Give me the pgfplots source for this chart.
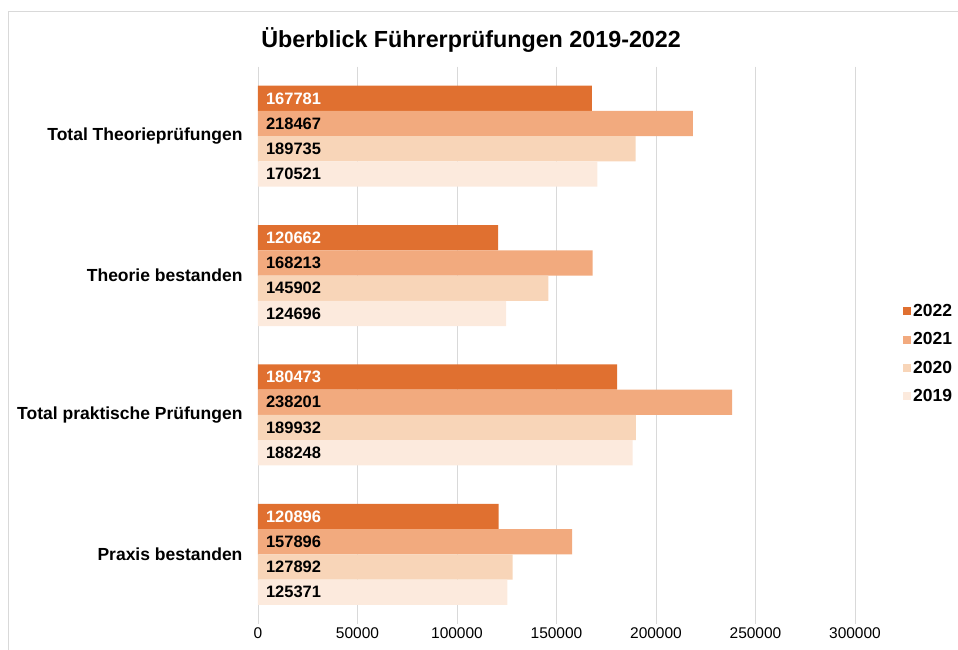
\documentclass[border=0pt]{standalone}
\usepackage{pgfplots}
\pgfplotsset{compat=1.18}
\usepackage{fontspec}
\setmainfont{Liberation Sans}
\definecolor{cA}{HTML}{E07030}
\definecolor{cB}{HTML}{F2AA7E}
\definecolor{cC}{HTML}{F8D5B8}
\definecolor{cD}{HTML}{FCEADD}
\definecolor{gridc}{HTML}{D9D9D9}
\begin{document}
\begin{tikzpicture}[x=1pt,y=1pt]
\path[use as bounding box] (-258,-26) rectangle (700,624);
\draw[gridc, line width=0.8pt] (-250,-26) -- (-250,613) -- (700,613);
\begin{axis}[
  at={(0,0)}, anchor=south west,
  scale only axis, width=597pt, height=557.5pt,
  xbar, xmin=0, xmax=300000, ymin=-0.5, ymax=3.5, y dir=reverse,
  bar width=0.181,
  ytick={0,1,2,3},
  yticklabels={Total Theorieprüfungen, Theorie bestanden, Total praktische Prüfungen, Praxis bestanden},
  yticklabel style={font=\bfseries\fontsize{17.5}{20}\selectfont, xshift=-12pt},
  xtick={0,50000,100000,150000,200000,250000,300000},
  scaled x ticks=false,
  /pgf/number format/fixed,
  /pgf/number format/precision=0,
  /pgf/number format/1000 sep={},
  /pgf/number format/assume math mode=true,
  xticklabel style={font=\fontsize{15.5}{18}\selectfont},
  xmajorgrids, grid style={draw=gridc, line width=0.8pt},
  axis line style={draw=none},
  major tick length=0pt,
  title={Überblick Führerprüfungen 2019-2022},
  title style={font=\bfseries\fontsize{23.3}{26}\selectfont, at={(0.357,1.0368)}, anchor=center},
  legend style={at={(1,0.485)}, anchor=west, xshift=45pt, draw=none, fill=none,
    font=\bfseries\fontsize{17.5}{20}\selectfont, row sep=10.5pt},
  legend cell align=left,
  legend image code/.code={\fill[#1, draw=none] (0pt,-4pt) rectangle (8pt,4pt);},
  nodes near coords, point meta=explicit symbolic,
  visualization depends on=rawx \as \rawx,
  every node near coord/.append style={anchor=west, shift={(axis direction cs:-\rawx,0)}, xshift=4.5pt,
    font=\bfseries\fontsize{16.5}{19}\selectfont, text=black},
]
\addplot[fill=cA, draw=none, bar shift=-0.2715, every node near coord/.append style={text=white}]
  coordinates {(167781,0) [167781] (120662,1) [120662] (180473,2) [180473] (120896,3) [120896]};
\addplot[fill=cB, draw=none, bar shift=-0.0905]
  coordinates {(218467,0) [218467] (168213,1) [168213] (238201,2) [238201] (157896,3) [157896]};
\addplot[fill=cC, draw=none, bar shift=0.0905]
  coordinates {(189735,0) [189735] (145902,1) [145902] (189932,2) [189932] (127892,3) [127892]};
\addplot[fill=cD, draw=none, bar shift=0.2715]
  coordinates {(170521,0) [170521] (124696,1) [124696] (188248,2) [188248] (125371,3) [125371]};
\legend{2022,2021,2020,2019}
\end{axis}
\end{tikzpicture}
\end{document}
